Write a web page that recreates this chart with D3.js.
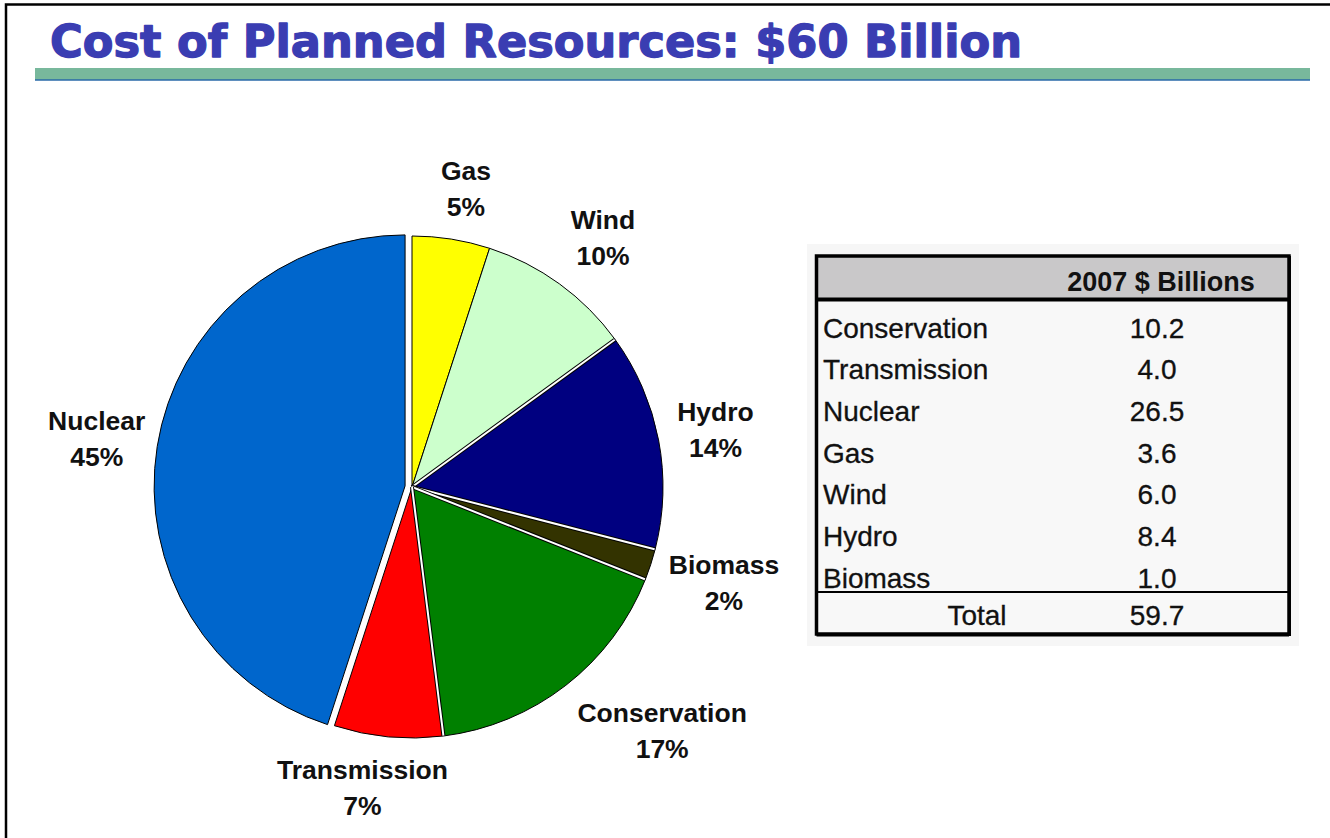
<!DOCTYPE html>
<html>
<head>
<meta charset="utf-8">
<script src="https://cdn.jsdelivr.net/npm/d3@7"></script>
<style>
  body { margin: 0; background: #fff; }
  svg { display: block; }
</style>
</head>
<body>
<svg id="chart" width="1330" height="838"></svg>
<script>
// pie shares as printed on the chart (percent)
const pieLabels = ['Gas', 'Wind', 'Hydro', 'Biomass', 'Conservation', 'Transmission', 'Nuclear']
const pieShares = [5, 10, 14, 2, 17, 7, 45]
const pieColors = ['#ffff00', '#ccffcc', '#000080', '#333300', '#008000', '#ff0000', '#0066cc']

// table: 2007 $ billions
const tableItems = ['Conservation', 'Transmission', 'Nuclear', 'Gas', 'Wind', 'Hydro', 'Biomass']
const tableValues = [10.2, 4.0, 26.5, 3.6, 6.0, 8.4, 1.0]
const tableHeader = '2007 $ Billions'

const title = 'Cost of Planned Resources: $60 Billion'

const svg = d3.select('#chart')

// page frame
svg.append('path')
  .attr('d', 'M6,838 V4.5 H1330')
  .attr('fill', 'none')
  .attr('stroke', '#000')
  .attr('stroke-width', 2.5)

// title + rule
svg.append('text')
  .attr('x', 50)
  .attr('y', 57)
  .attr('textLength', 972)
  .attr('lengthAdjust', 'spacingAndGlyphs')
  .style('font-family', '"DejaVu Sans", sans-serif')
  .style('font-weight', 'bold')
  .style('font-size', '45px')
  .attr('fill', '#3a3db2')
  .attr('stroke', '#3a3db2')
  .attr('stroke-width', 1.3)
  .attr('stroke-linejoin', 'round')
  .text(title)

svg.append('rect')
  .attr('x', 35).attr('y', 68)
  .attr('width', 1275).attr('height', 12)
  .attr('fill', '#78b89c')
svg.append('line')
  .attr('x1', 35).attr('x2', 1310)
  .attr('y1', 80).attr('y2', 80)
  .attr('stroke', '#2a6aa8')
  .attr('stroke-width', 1.5)

// ---- pie ----
const cx = 412
const cy = 487
const radius = 251
const explodeNuclear = 7

const pie = d3.pie().sort(null).value(d => d.value)
const arc = d3.arc().innerRadius(0).outerRadius(radius)
const pieData = pie(pieLabels.map((name, i) => ({name, value: pieShares[i], color: pieColors[i]})))

const pieG = svg.append('g').attr('transform', `translate(${cx},${cy})`)

const midAngle = d => (d.startAngle + d.endAngle) / 2

pieG.selectAll('.slice')
  .data(pieData)
  .enter()
  .append('path')
  .attr('class', 'slice')
  .attr('d', arc)
  .attr('fill', d => d.data.color)
  .attr('stroke', '#000')
  .attr('stroke-width', 1)
  .attr('stroke-linejoin', 'round')
  .attr('transform', d => {
    const off = d.data.name === 'Nuclear' ? explodeNuclear : 0
    const a = midAngle(d)
    return `translate(${off * Math.sin(a)},${-off * Math.cos(a)})`
  })

// white separators between slices (gas/wind share a plain edge)
const seps = pieData.filter(d => !['Gas', 'Wind', 'Nuclear'].includes(d.data.name)).map(d => d.startAngle)
seps.forEach(a => {
  const x2 = (radius - 0.5) * Math.sin(a)
  const y2 = -(radius - 0.5) * Math.cos(a)
  pieG.append('line')
    .attr('x1', 0).attr('y1', 0).attr('x2', x2).attr('y2', y2)
    .attr('stroke', '#000').attr('stroke-width', 4)
  pieG.append('line')
    .attr('x1', 0).attr('y1', 0).attr('x2', x2).attr('y2', y2)
    .attr('stroke', '#fff').attr('stroke-width', 2)
})

// labels: box edge sits on the mid-angle ray, just outside the pie
const labelR = radius + 19
const lineGap = 36
const labelFont = 26.5
const boxH = 64
const clamp = v => Math.max(-1, Math.min(1, v))

const labels = pieG.selectAll('.pie-label')
  .data(pieData)
  .enter()
  .append('g')
  .attr('class', 'pie-label')
  .style('font-family', '"Liberation Sans", Arial, sans-serif')
  .style('font-weight', 'bold')
  .style('font-size', labelFont + 'px')
  .attr('fill', '#111')

labels.append('text')
  .attr('text-anchor', 'middle')
  .attr('y', -lineGap / 2 + labelFont * 0.36)
  .text(d => d.data.name)
labels.append('text')
  .attr('text-anchor', 'middle')
  .attr('y', lineGap / 2 + labelFont * 0.36)
  .text(d => d.data.value + '%')

labels.attr('transform', function (d) {
  const w = this.getBBox().width
  const a = midAngle(d)
  const s = Math.sin(a)
  const c = Math.cos(a)
  const x = labelR * s + clamp(3 * s) * w / 2
  const y = -labelR * c - clamp(1.2 * c) * boxH / 2
  return `translate(${x},${y})`
})

// ---- table ----
const tLeft = 816.5
const tRight = 1289
const tTop = 256
const tBottom = 634
const headerBottom = 299.5
const totalLine = 592
const labelX = 823
const valueX = 1157
const totalLabelX = 977
const tableFont = 28

svg.append('rect')
  .attr('x', 807).attr('y', 244)
  .attr('width', 492).attr('height', 402)
  .attr('fill', '#f6f6f6')
svg.append('rect')
  .attr('x', tLeft).attr('y', tTop)
  .attr('width', tRight - tLeft).attr('height', tBottom - tTop)
  .attr('fill', '#f8f8f8')
svg.append('rect')
  .attr('x', tLeft).attr('y', tTop)
  .attr('width', tRight - tLeft).attr('height', headerBottom - tTop)
  .attr('fill', '#c9c8c9')
svg.append('rect')
  .attr('x', tLeft).attr('y', tTop)
  .attr('width', tRight - tLeft).attr('height', tBottom - tTop)
  .attr('fill', 'none')
  .attr('stroke', '#000')
  .attr('stroke-width', 3.5)
svg.append('line')
  .attr('x1', tLeft).attr('x2', tRight)
  .attr('y1', headerBottom).attr('y2', headerBottom)
  .attr('stroke', '#000').attr('stroke-width', 4)
svg.append('line')
  .attr('x1', tLeft).attr('x2', tRight)
  .attr('y1', totalLine).attr('y2', totalLine)
  .attr('stroke', '#000').attr('stroke-width', 2)
svg.append('line')
  .attr('x1', tLeft).attr('x2', tRight)
  .attr('y1', tBottom + 1).attr('y2', tBottom + 1)
  .attr('stroke', '#000').attr('stroke-width', 3)
svg.append('line')
  .attr('x1', tRight + 1).attr('x2', tRight + 1)
  .attr('y1', tTop).attr('y2', tBottom + 2)
  .attr('stroke', '#000').attr('stroke-width', 2)

const tableG = svg.append('g')
  .style('font-family', '"Liberation Sans", Arial, sans-serif')
  .style('font-size', tableFont + 'px')
  .attr('fill', '#111')

tableG.append('text')
  .attr('x', valueX + 4)
  .attr('y', 291)
  .attr('text-anchor', 'middle')
  .style('font-weight', 'bold')
  .style('font-size', '27px')
  .text(tableHeader)

const rowY = d3.scalePoint().domain(tableItems).range([337.5, 587.5])

const rows = tableG.selectAll('.row')
  .data(tableItems)
  .enter()
  .append('g')
  .attr('class', 'row')
  .attr('transform', d => `translate(0,${rowY(d)})`)

rows.append('text')
  .attr('x', labelX)
  .attr('stroke', '#111').attr('stroke-width', 0.3)
  .text(d => d)
rows.append('text')
  .attr('x', valueX)
  .attr('text-anchor', 'middle')
  .attr('stroke', '#111').attr('stroke-width', 0.3)
  .text((d, i) => d3.format('.1f')(tableValues[i]))

const total = d3.sum(tableValues)
tableG.append('text')
  .attr('x', totalLabelX).attr('y', 625)
  .attr('text-anchor', 'middle')
  .attr('stroke', '#111').attr('stroke-width', 0.3)
  .text('Total')
tableG.append('text')
  .attr('x', valueX).attr('y', 625)
  .attr('text-anchor', 'middle')
  .attr('stroke', '#111').attr('stroke-width', 0.3)
  .text(d3.format('.1f')(total))
</script>
</body>
</html>
